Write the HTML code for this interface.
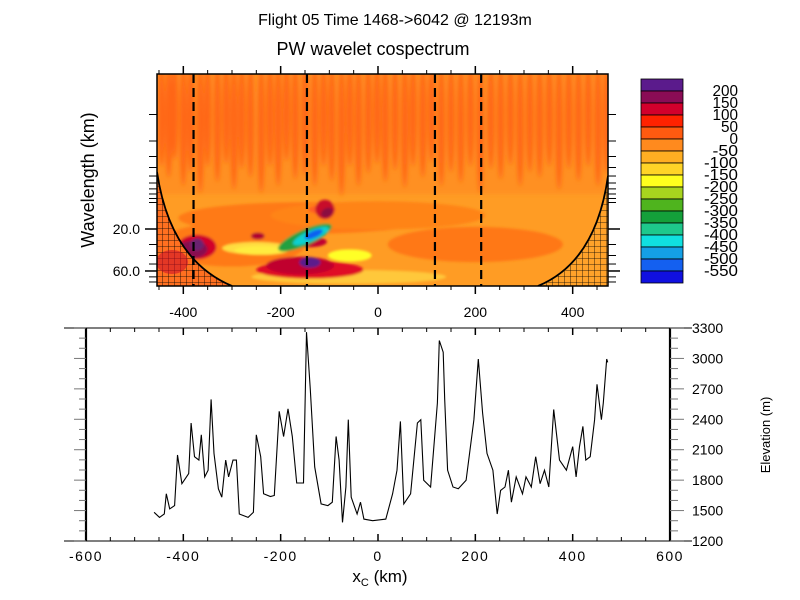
<!DOCTYPE html>
<html><head><meta charset="utf-8"><style>
body{margin:0;background:#fff;}
svg{display:block;font-family:"Liberation Sans",sans-serif;}
</style></head><body>
<svg id="c" width="800" height="600" viewBox="0 0 800 600">
<defs>
<clipPath id="topclip"><rect x="157" y="74" width="451" height="212"/></clipPath>
<pattern id="hatch" width="6" height="6" patternUnits="userSpaceOnUse"><path d="M0 0H6M0 0V6" stroke="#000" stroke-width="0.8" fill="none"/></pattern>
<filter id="blur"><feGaussianBlur stdDeviation="2"/></filter>
<filter id="soft"><feGaussianBlur stdDeviation="1.2"/></filter>
</defs>
<text x="395" y="25" font-size="16" text-anchor="middle">Flight 05 Time 1468-&gt;6042 @ 12193m</text>
<text x="373" y="55" font-size="18" text-anchor="middle">PW wavelet cospectrum</text>
<text transform="translate(94,180) rotate(-90)" font-size="18" text-anchor="middle">Wavelength (km)</text>
<g id="topPlot" clip-path="url(#topclip)"></g>
<g id="topAxes"></g>
<g id="legend"></g>
<g id="bot"></g>
<text x="380" y="582" font-size="17" text-anchor="middle">x<tspan font-size="11" dy="4">C</tspan><tspan dy="-4"> (km)</tspan></text>
<text transform="translate(770,435) rotate(-90)" font-size="13" text-anchor="middle">Elevation (m)</text>
</svg>
<script>
// ---- data ----
const legendLabels=["200","150","100","50","0","-50","-100","-150","-200","-250","-300","-350","-400","-450","-500","-550"];
const legendColors=["#5b1b8c","#8a0c55","#d2002c","#ff2200","#ff5a10","#ff8a1e","#ffae22","#ffd427","#ffff1e","#a8d41e","#4fb41e","#14a03a","#1ec88c","#10e0e0","#14a0e6","#1460f0","#1010e0"];
const topXTicks=[-400,-200,0,200,400];
const wlTicks=[20,60];
const dashedX=[-379,-146,117,212];
const streakX=[-445,-430,-418,-400,-385,-365,-350,-330,-312,-296,-280,-262,-240,-222,-205,-188,-170,-150,-130,-112,-95,-75,-58,-40,-20,-2,15,35,55,72,92,110,130,150,170,190,210,232,252,272,292,312,332,352,372,392,412,432,452,470];
const streakWl=[3,4,2.5,5,3.5,6,3,4.5,2.8,5.5,3.2,4,6,3,5,2.6,4.2,3.8,5,3,4.4,6.5,3,5,3.6,2.8,4.5,3.3,5.2,3,4,2.7,5,3.5,4.6,3,6,3.2,4.2,2.9,5,3.5,4,3,5.5,3.2,4.4,3,5,3.6];
const blobX=[-150,0,200,-300,-60,-250,-140,-160,-58,-240,-372,-380,-140,-115,-150,-138,-132,-247,-109,-105,-140,-372];
const blobWl=[15,14,30,30,70,33,58,52,40,35,32,34,28,12,25,24,23,24,12,13,48,30];
const blobRx=[260,220,180,150,200,70,110,70,45,55,40,30,35,28,60,40,20,14,20,9,22,14];
const blobRy=[0.18,0.16,0.2,0.25,0.08,0.07,0.1,0.1,0.07,0.05,0.14,0.1,0.06,0.05,0.09,0.06,0.04,0.04,0.11,0.07,0.06,0.07];
const blobRot=[0,0,0,0,0,0,0,0,0,0,0,0,0,0,-24,-24,-24,0,62,62,0,0];
const blobCol=["#ff7a18","#ff8418","#ff7818","#ff7a18","#ffc83a","#ffdc40","#e00828","#c0002e","#ffff28","#ffec40","#d2002c","#8a1050","#c00030","#ff6020","#20a040","#10d0d0","#1060f0","#b00030","#c8102c","#8a0c40","#5b1b8c","#6a2070"];
const elevX=[-460,-449,-439,-435,-428,-418,-412,-403,-389,-384,-377,-368,-363,-356,-349,-343,-337,-328,-321,-313,-307,-298,-291,-285,-267,-256,-250,-241,-235,-221,-213,-203,-194,-185,-176,-167,-153,-147,-139,-130,-117,-103,-94,-86,-80,-73,-66,-61,-55,-43,-36,-29,-11,16,30,39,46,53,67,81,88,94,108,122,126,134,137,143,154,165,181,197,206,215,224,236,245,252,261,268,274,284,297,304,315,324,333,342,351,361,373,387,400,407,414,421,427,436,445,450,459,463,470,472];
const elevY=[1483,1433,1466,1665,1516,1549,2048,1765,1865,2363,2031,1998,2247,1832,1898,2596,2064,1715,1632,1998,1832,1998,1998,1466,1433,1483,2247,2031,1665,1639,1649,2479,2230,2503,2230,1772,1772,3260,2695,1931,1566,1549,1583,2230,1998,1383,1732,2396,1632,1466,1583,1416,1400,1416,1665,1898,2379,1566,1665,2363,2396,1798,1732,2562,3177,3061,2596,1898,1732,1715,1798,2396,2994,2462,2064,1898,1466,1699,1732,1898,1583,1832,1665,1832,1732,2031,1765,1898,1732,2496,1998,1898,2131,1832,2131,2330,1998,2031,2396,2745,2396,2562,2994,2961];
const botXTicks=[-600,-400,-200,0,200,400,600];
const botYTicks=[1200,1500,1800,2100,2400,2700,3000,3300];

// ---- scales ----
const xK=km=>378+km*0.4867;
const yWl=wl=>229+88*Math.log10(wl/20);
const yE=e=>541-(e-1200)*(213/2100);
const NS="http://www.w3.org/2000/svg";
function mk(tag,attrs,parent){const e=document.createElementNS(NS,tag);for(const k in attrs)e.setAttribute(k,attrs[k]);parent.appendChild(e);return e;}

// ---- top plot ----
const topG=document.getElementById('topPlot');
const bg=mk('rect',{x:157,y:74,width:451,height:212,fill:'#ff9c24'},topG);


const upper=mk('rect',{x:157,y:74,width:451,height:120,fill:'#ff9020',filter:'url(#blur)'},topG);


const bands=mk('g',{filter:'url(#blur)'},topG);
for(let i=0;i<streakX.length;i++){
  const y2=yWl(streakWl[i]);
  const s=mk('ellipse',{cx:xK(streakX[i]),cy:(74+y2)/2,rx:3.5,ry:(y2-74)/2+10,fill:'#ff6612'},bands);
  
  
}
const blobs=mk('g',{filter:'url(#soft)'},topG);
for(let i=0;i<blobX.length;i++){
  const cx=xK(blobX[i]),cy=yWl(blobWl[i]);
  const el=mk('ellipse',{cx:cx,cy:cy,rx:blobRx[i]*0.4867,ry:blobRy[i]*88,fill:blobCol[i],transform:`rotate(${blobRot[i]} ${cx} ${cy})`},blobs);
  
  
}
const coiL=`M157 172 Q170 260 232 286 L157 286 Z`;
const coiR=`M608 176 Q596 262 538 286 L608 286 Z`;
[coiL,coiR].forEach((d,i)=>{
  const f=mk('path',{d:d,fill:i==0?'#ff7020':'#ffa22a'},topG);
  
  
  const h=mk('path',{d:d,fill:'url(#hatch)'},topG);
  
  
});
mk('ellipse',{cx:172,cy:262,rx:16,ry:12,fill:'#d0102a',opacity:0.6},topG);
mk('path',{d:'M157 172 Q170 260 232 286',fill:'none',stroke:'#000','stroke-width':1.8},topG);
mk('path',{d:'M608 176 Q596 262 538 286',fill:'none',stroke:'#000','stroke-width':1.8},topG);
dashedX.forEach(v=>{
  const l=mk('line',{x1:xK(v),x2:xK(v),y1:74,y2:286,stroke:'#000','stroke-width':2.2,'stroke-dasharray':'9,5'},topG);
  
  
});
const ta=document.getElementById('topAxes');
const fr=mk('rect',{x:157,y:74,width:451,height:212,fill:'none',stroke:'#000','stroke-width':1.5},ta);


for(let v=-450;v<=450;v+=50){
  const x=xK(v),maj=v%200==0;
  mk('line',{x1:x,x2:x,y1:286,y2:maj?294:290,stroke:'#000','stroke-width':maj?1.5:1},ta);
  mk('line',{x1:x,x2:x,y1:74,y2:maj?66:70,stroke:'#000','stroke-width':maj?1.5:1},ta);
}
topXTicks.forEach(v=>{
  const t=mk('text',{x:xK(v),y:317,'font-size':14,'text-anchor':'middle'},ta);t.textContent=v;
  
  
});
[1,2,3,4,5,6,7,8,9,10,30,40,50,70,80].forEach(w=>{
  if(yWl(w)<74)return;
  mk('line',{x1:149,x2:157,y1:yWl(w),y2:yWl(w),stroke:'#000','stroke-width':1},ta);
  mk('line',{x1:608,x2:616,y1:yWl(w),y2:yWl(w),stroke:'#000','stroke-width':1},ta);
});
wlTicks.forEach(w=>{
  mk('line',{x1:145,x2:157,y1:yWl(w),y2:yWl(w),stroke:'#000','stroke-width':1.5},ta);
  mk('line',{x1:608,x2:620,y1:yWl(w),y2:yWl(w),stroke:'#000','stroke-width':1.5},ta);
  const t=mk('text',{x:140,y:yWl(w)+5,'font-size':14,'text-anchor':'end'},ta);t.textContent=w.toFixed(1);
  
  
});
const lg=document.getElementById('legend');
legendColors.forEach((c,i)=>{
  const r=mk('rect',{x:641,y:79+i*12,width:42,height:12,fill:c,stroke:'#000','stroke-width':0.8},lg);
  
  
});
legendLabels.forEach((s,i)=>{
  const t=mk('text',{x:738,y:96+i*12,'font-size':16,'text-anchor':'end','textLength':s.length*8.5,'lengthAdjust':'spacingAndGlyphs'},lg);t.textContent=s;
  
  
});
const bot=document.getElementById('bot');
mk('line',{x1:64,x2:692,y1:328,y2:328,stroke:'#555','stroke-width':1.5},bot);
mk('line',{x1:64,x2:692,y1:541,y2:541,stroke:'#555','stroke-width':1.5},bot);
mk('line',{x1:86,x2:86,y1:328,y2:541,stroke:'#000','stroke-width':2.2},bot);
mk('line',{x1:670,x2:670,y1:328,y2:541,stroke:'#000','stroke-width':2.2},bot);
for(let v=-600;v<=600;v+=50){
  const x=xK(v),maj=v%200==0;
  mk('line',{x1:x,x2:x,y1:541,y2:maj?534:537,stroke:'#000','stroke-width':maj?1.5:1},bot);
  mk('line',{x1:x,x2:x,y1:328,y2:maj?335:332,stroke:'#000','stroke-width':maj?1.5:1},bot);
}
botXTicks.forEach(v=>{
  const t=mk('text',{x:xK(v),y:561,'font-size':14,'text-anchor':'middle','letter-spacing':'1.5'},bot);t.textContent=v;
  
  
});
for(let e=1200;e<=3300;e+=100){
  const y=yE(e),maj=e%300==0;
  mk('line',{x1:maj?74:79,x2:86,y1:y,y2:y,stroke:'#777','stroke-width':1},bot);
  mk('line',{x1:670,x2:maj?684:678,y1:y,y2:y,stroke:'#777','stroke-width':1},bot);
}
botYTicks.forEach(e=>{
  const t=mk('text',{x:692,y:yE(e)+5,'font-size':14},bot);t.textContent=e;
  
  
});
let d='';
elevX.forEach((x,i)=>{d+=(i?'L':'M')+xK(x).toFixed(1)+' '+yE(elevY[i]).toFixed(1);});
const ln=mk('path',{d:d,fill:'none',stroke:'#000','stroke-width':1.1},bot);


</script>
</body></html>
